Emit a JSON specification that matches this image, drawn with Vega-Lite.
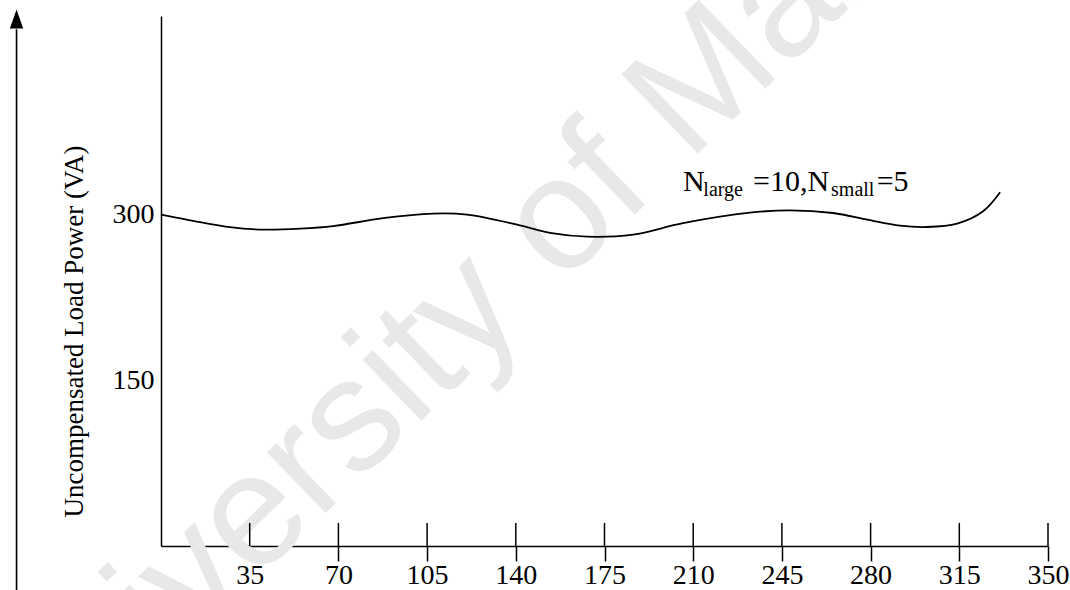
{
  "$schema": "https://vega.github.io/schema/vega-lite/v6.json",
  "width": 887,
  "height": 530,
  "autosize": "none",
  "padding": {"left": 161, "top": 16, "right": 22, "bottom": 44},
  "background": "white",
  "config": {"view": {"stroke": null}, "font": "Liberation Serif"},
  "datasets": {
    "curve": [
      {"t": 0, "p": 300.1}, {"t": 15.4, "p": 293.3}, {"t": 27.2, "p": 288.8},
      {"t": 40.3, "p": 286.5}, {"t": 54.9, "p": 287.4}, {"t": 67.9, "p": 289.7},
      {"t": 87.6, "p": 296.9}, {"t": 107.3, "p": 301.0}, {"t": 120.8, "p": 300.1},
      {"t": 140.5, "p": 291.0}, {"t": 153.5, "p": 283.5}, {"t": 168.1, "p": 280.1},
      {"t": 186.3, "p": 282.0}, {"t": 206.0, "p": 292.4}, {"t": 232.4, "p": 301.9},
      {"t": 248.2, "p": 304.0}, {"t": 265.2, "p": 301.6}, {"t": 278.6, "p": 295.6},
      {"t": 291.6, "p": 290.1}, {"t": 302.3, "p": 288.9}, {"t": 314.1, "p": 291.9},
      {"t": 324.4, "p": 303.1}, {"t": 331.1, "p": 320.3}
    ],
    "ticks": [
      {"t": 35}, {"t": 70}, {"t": 105}, {"t": 140}, {"t": 175},
      {"t": 210}, {"t": 245}, {"t": 280}, {"t": 315}, {"t": 350}
    ],
    "main": [
      {"label": "N", "t": 206.0, "p": 321.2},
      {"label": "=10,N", "t": 233.6, "p": 321.2},
      {"label": "=5", "t": 282.4, "p": 321.2}
    ],
    "sub": [
      {"label": "large", "t": 214.0, "p": 317.3},
      {"label": "small", "t": 264.4, "p": 317.3}
    ],
    "wm": [{"label": "University of Malaya", "t": 137, "p": 250}]
  },
  "resolve": {"axis": {"x": "independent", "y": "independent"}},
  "layer": [
    {
      "data": {"name": "wm"},
      "mark": {"type": "text", "font": "Liberation Sans", "fontSize": 160, "angle": -44, "align": "center", "baseline": "middle", "color": "#e8e8e8"},
      "encoding": {
        "x": {"field": "t", "type": "quantitative", "scale": {"domain": [0, 350], "nice": false, "zero": false}, "axis": null},
        "y": {"field": "p", "type": "quantitative", "scale": {"domain": [0, 480], "nice": false, "zero": false}, "axis": null},
        "text": {"field": "label"}
      }
    },
    {
      "data": {"name": "curve"},
      "mark": {"type": "line", "color": "black", "strokeWidth": 1.8, "interpolate": "catmull-rom"},
      "encoding": {
        "x": {"field": "t", "type": "quantitative", "scale": {"domain": [0, 350], "nice": false, "zero": false},
          "axis": {"values": [35, 70, 105, 140, 175, 210, 245, 280, 315, 350], "domainColor": "black", "domainWidth": 1.5, "ticks": true, "tickColor": "black", "tickWidth": 1.5, "tickSize": 15, "labelFontSize": 28, "labelFont": "Liberation Serif", "labelColor": "black", "labelPadding": 0, "grid": false, "title": null, "labelFlush": false}},
        "y": {"field": "p", "type": "quantitative", "scale": {"domain": [0, 480], "nice": false, "zero": false},
          "axis": {"values": [150, 300], "domainColor": "black", "domainWidth": 1.5, "ticks": false, "labelFontSize": 28, "labelFont": "Liberation Serif", "labelColor": "black", "labelPadding": 7, "grid": false,
            "title": "Uncompensated Load Power (VA)", "titleFont": "Liberation Serif", "titleFontSize": 27, "titleFontWeight": "normal", "titleColor": "black", "titleX": -87, "titleY": 315, "titleAngle": -90, "titleAlign": "center", "titleBaseline": "middle"}}
      }
    },
    {
      "data": {"name": "ticks"},
      "mark": {"type": "rule", "color": "black", "strokeWidth": 1.5},
      "encoding": {
        "x": {"field": "t", "type": "quantitative", "scale": {"domain": [0, 350], "nice": false, "zero": false}, "axis": null},
        "y": {"datum": 0, "type": "quantitative", "scale": {"domain": [0, 480], "nice": false, "zero": false}, "axis": null},
        "y2": {"datum": 20.9}
      }
    },
    {
      "data": {"values": [{}]},
      "mark": {"type": "rule", "color": "black", "strokeWidth": 1.6},
      "encoding": {
        "x": {"datum": -57, "type": "quantitative", "scale": {"domain": [0, 350], "nice": false, "zero": false}, "axis": null},
        "y": {"datum": -45, "type": "quantitative", "scale": {"domain": [0, 480], "nice": false, "zero": false}, "axis": null},
        "y2": {"datum": 468}
      }
    },
    {
      "data": {"values": [{}]},
      "mark": {"type": "point", "shape": "M0,-1L0.7,1L-0.7,1Z", "filled": true, "color": "black", "opacity": 1, "size": 361},
      "encoding": {
        "x": {"datum": -57, "type": "quantitative", "scale": {"domain": [0, 350], "nice": false, "zero": false}, "axis": null},
        "y": {"datum": 477.3, "type": "quantitative", "scale": {"domain": [0, 480], "nice": false, "zero": false}, "axis": null}
      }
    },
    {
      "data": {"name": "main"},
      "mark": {"type": "text", "font": "Liberation Serif", "fontSize": 30, "align": "left", "baseline": "alphabetic", "color": "black"},
      "encoding": {
        "x": {"field": "t", "type": "quantitative", "scale": {"domain": [0, 350], "nice": false, "zero": false}, "axis": null},
        "y": {"field": "p", "type": "quantitative", "scale": {"domain": [0, 480], "nice": false, "zero": false}, "axis": null},
        "text": {"field": "label"}
      }
    },
    {
      "data": {"name": "sub"},
      "mark": {"type": "text", "font": "Liberation Serif", "fontSize": 20, "align": "left", "baseline": "alphabetic", "color": "black"},
      "encoding": {
        "x": {"field": "t", "type": "quantitative", "scale": {"domain": [0, 350], "nice": false, "zero": false}, "axis": null},
        "y": {"field": "p", "type": "quantitative", "scale": {"domain": [0, 480], "nice": false, "zero": false}, "axis": null},
        "text": {"field": "label"}
      }
    }
  ]
}
